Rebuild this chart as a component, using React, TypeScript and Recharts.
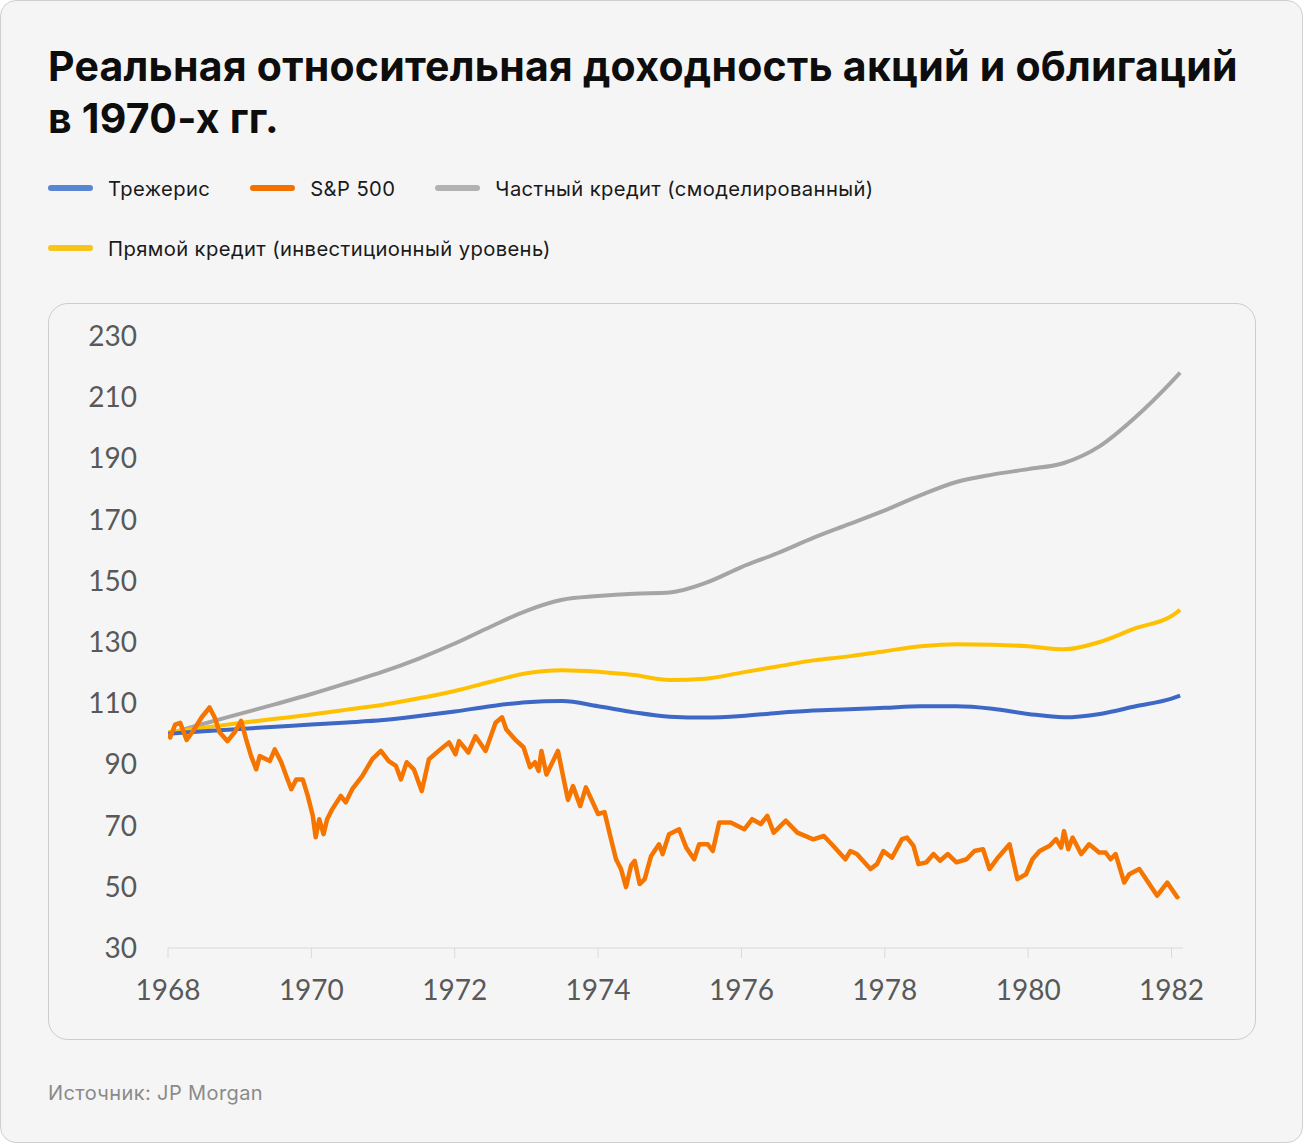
import { LineChart, Line, XAxis, YAxis } from "recharts";

// smooth series, read every half year
const years = [
  1968, 1968.5, 1969, 1969.5, 1970, 1970.5, 1971, 1971.5, 1972, 1972.5, 1973, 1973.5, 1974, 1974.5, 1975,
  1975.5, 1976, 1976.5, 1977, 1977.5, 1978, 1978.5, 1979, 1979.5, 1980, 1980.5, 1981, 1981.5, 1982, 1982.12,
];
const treasuries = [
  100, 100.8, 101.6, 102.3, 103, 103.7, 104.5, 105.8, 107.3, 109, 110.3, 110.7, 109, 107, 105.6, 105.3, 105.8,
  106.8, 107.6, 108, 108.5, 109, 109, 108.2, 106.5, 105.4, 106.5, 109, 111.5, 112.5,
];
const privateCredit = [
  100, 103.3, 106.5, 109.7, 113, 116.6, 120.3, 124.6, 129.5, 135, 140.2, 143.8, 145, 145.8, 146.2, 149.3, 154.5,
  159, 164, 168.5, 173, 178, 182.3, 184.7, 186.5, 188.5, 194, 203.5, 215, 218,
];
const directLending = [
  100.5, 102, 103.5, 104.9, 106.3, 107.9, 109.5, 111.6, 114, 117, 119.8, 120.8, 120.3, 119.2, 117.6, 118, 120,
  122, 124, 125.3, 127, 128.6, 129.3, 129.1, 128.6, 127.6, 130, 134.5, 138.5, 140.5,
];

// S&P 500, read at turning points
const spYears = [
  1968.0, 1968.03, 1968.1, 1968.17, 1968.26, 1968.35, 1968.47, 1968.58, 1968.65, 1968.72, 1968.83, 1968.93,
  1969.02, 1969.09, 1969.16, 1969.23, 1969.28, 1969.42, 1969.49, 1969.58, 1969.65, 1969.72, 1969.79, 1969.88,
  1969.95, 1970.02, 1970.06, 1970.11, 1970.17, 1970.22, 1970.29, 1970.41, 1970.48, 1970.57, 1970.71, 1970.85,
  1970.97, 1971.08, 1971.18, 1971.25, 1971.33, 1971.43, 1971.54, 1971.64, 1971.8, 1971.92, 1972.01, 1972.06,
  1972.19, 1972.29, 1972.43, 1972.57, 1972.66, 1972.72, 1972.84, 1972.96, 1973.05, 1973.12, 1973.17, 1973.21,
  1973.28, 1973.44, 1973.54, 1973.58, 1973.65, 1973.75, 1973.83, 1974.0, 1974.09, 1974.18, 1974.25, 1974.32,
  1974.39, 1974.46, 1974.51, 1974.58, 1974.65, 1974.74, 1974.85, 1974.9, 1974.99, 1975.13, 1975.23, 1975.34,
  1975.41, 1975.53, 1975.6, 1975.69, 1975.85, 1976.04, 1976.15, 1976.27, 1976.36, 1976.45, 1976.62, 1976.78,
  1976.92, 1977.0, 1977.15, 1977.26, 1977.45, 1977.52, 1977.61, 1977.8, 1977.89, 1977.98, 1978.1, 1978.24,
  1978.31, 1978.4, 1978.47, 1978.58, 1978.68, 1978.77, 1978.88, 1979.0, 1979.14, 1979.25, 1979.37, 1979.46,
  1979.58, 1979.74, 1979.85, 1979.97, 1980.06, 1980.16, 1980.3, 1980.39, 1980.46, 1980.5, 1980.56, 1980.62,
  1980.74, 1980.85, 1980.99, 1981.08, 1981.15, 1981.22, 1981.34, 1981.41, 1981.55, 1981.66, 1981.8, 1981.94,
  1982.08, 1982.1,
];
const sp500 = [
  100, 98.8, 103, 103.6, 98, 100.9, 105.4, 108.6, 105.4, 100.5, 97.6, 100.5,
  104.2, 98.2, 92.7, 88.4, 92.7, 91.1, 94.9, 90.7, 86.2, 81.9, 85.1, 85.1,
  79.7, 73.2, 66.2, 72.1, 67.2, 72.1, 75.3, 79.7, 77.6, 81.9, 86.2, 91.7,
  94.4, 91.1, 89.5, 85.1, 90.7, 88.4, 81.3, 91.7, 94.9, 97.2, 93.3, 97.6,
  93.9, 99.2, 94.4, 103.6, 105.4, 101.4, 98.2, 95.6, 89.1, 90.7, 87.9, 94.4,
  86.7, 94.4, 82.9, 78.4, 82.9, 76.4, 82.5, 73.8, 74.4, 65.6, 59, 55.8,
  49.9, 56.9, 58.5, 50.9, 52.5, 60.1, 63.9, 60.7, 67.2, 68.8, 62.8, 59,
  63.9, 63.9, 61.7, 71, 71, 68.8, 72.1, 70.5, 73.2, 67.7, 71.6, 67.7,
  66.3, 65.5, 66.6, 63.9, 59, 61.7, 60.7, 55.8, 57.4, 61.7, 59.5, 65.6,
  66.1, 63.4, 57.4, 58, 60.7, 58.5, 60.7, 58, 59, 61.7, 62.3, 55.8,
  59.6, 63.9, 52.5, 54.1, 59, 61.7, 63.4, 65.6, 62.8, 68.2, 62.3, 66.1,
  60.7, 63.9, 61.2, 61.2, 59, 60.7, 51.4, 54.1, 55.8, 52, 47.1, 51.4,
  46.6, 47.1,
];

const yTicks = [30, 50, 70, 90, 110, 130, 150, 170, 190, 210, 230];
const xTicks = [1968, 1970, 1972, 1974, 1976, 1978, 1980, 1982];

const legendItems = [
  { name: "Трежерис", color: "#5A85D3" },
  { name: "S&P 500", color: "#F27200" },
  { name: "Частный кредит (смоделированный)", color: "#B2B2B2" },
];
const legendItems2 = [{ name: "Прямой кредит (инвестиционный уровень)", color: "#F7C41C" }];

const smooth = years.map((year, i) => ({
  year,
  treasuries: treasuries[i],
  privateCredit: privateCredit[i],
  directLending: directLending[i],
}));
const spData = spYears.map((year, i) => ({ year, sp: sp500[i] }));

const sans = "Inter, 'Noto Sans', sans-serif";
const tickStyle = { fill: "#595959", fontSize: 28, fontFamily: "Lato, sans-serif" };

const LegendRow = ({ items, top }: { items: { name: string; color: string }[]; top: number }) => (
  <div style={{ position: "absolute", left: 48, top, display: "flex", alignItems: "center", height: 30 }}>
    {items.map((it) => (
      <div key={it.name} style={{ display: "flex", alignItems: "center", marginRight: 40 }}>
        <div style={{ width: 45, height: 6, borderRadius: 3, background: it.color, marginRight: 15 }} />
        <span style={{ fontSize: 20.2, letterSpacing: 0.4, color: "#1a1a1a", fontFamily: sans }}>{it.name}</span>
      </div>
    ))}
  </div>
);

export default function App() {
  return (
    <div style={{ position: "relative", width: 1305, height: 1146, background: "#fff" }}>
      <style>{"body{margin:0}"}</style>
      <div
        style={{
          position: "absolute",
          left: 0,
          top: 0,
          width: 1303,
          height: 1143,
          boxSizing: "border-box",
          border: "1px solid #cfcfcf",
          borderRadius: 16,
          background: "#f5f5f5",
        }}
      />
      <div
        style={{
          position: "absolute",
          left: 48,
          top: 40,
          width: 1240,
          fontFamily: sans,
          fontWeight: 700,
          fontSize: 41,
          letterSpacing: 0.25,
          lineHeight: "52px",
          color: "#0d0d0d",
        }}
      >
        Реальная относительная доходность акций и облигаций
        <br />в 1970-х гг.
      </div>
      <LegendRow items={legendItems} top={173} />
      <LegendRow items={legendItems2} top={233} />
      <div
        style={{
          position: "absolute",
          left: 48,
          top: 303,
          width: 1208,
          height: 737,
          boxSizing: "border-box",
          border: "1px solid #cccccc",
          borderRadius: 20,
        }}
      />
      <div style={{ position: "absolute", left: 48, top: 303 }}>
        <LineChart width={1208} height={737} margin={{ top: 33, right: 73, left: 0, bottom: 0 }}>
          <XAxis
            dataKey="year"
            type="number"
            domain={[1968, 1982.16]}
            ticks={xTicks}
            allowDataOverflow
            height={92}
            stroke="#d9d9d9"
            tickSize={10}
            tickMargin={22}
            tick={tickStyle}
          />
          <YAxis
            type="number"
            domain={[30, 230]}
            ticks={yTicks}
            width={120}
            axisLine={false}
            tickLine={false}
            tickSize={0}
            tickMargin={31}
            tick={tickStyle}
          />
          <Line
            data={smooth}
            dataKey="privateCredit"
            type="monotone"
            stroke="#A5A5A5"
            strokeWidth={4}
            dot={false}
            isAnimationActive={false}
          />
          <Line
            data={smooth}
            dataKey="directLending"
            type="monotone"
            stroke="#FFC000"
            strokeWidth={4}
            dot={false}
            isAnimationActive={false}
          />
          <Line
            data={smooth}
            dataKey="treasuries"
            type="monotone"
            stroke="#3D68C6"
            strokeWidth={4}
            dot={false}
            isAnimationActive={false}
          />
          <Line
            data={spData}
            dataKey="sp"
            type="linear"
            stroke="#F57500"
            strokeWidth={4.5}
            strokeLinejoin="round"
            dot={false}
            isAnimationActive={false}
          />
        </LineChart>
      </div>
      <div
        style={{
          position: "absolute",
          left: 48,
          top: 1081,
          fontFamily: sans,
          fontSize: 20,
          letterSpacing: 0.4,
          color: "#8a8a8a",
        }}
      >
        Источник: JP Morgan
      </div>
    </div>
  );
}
